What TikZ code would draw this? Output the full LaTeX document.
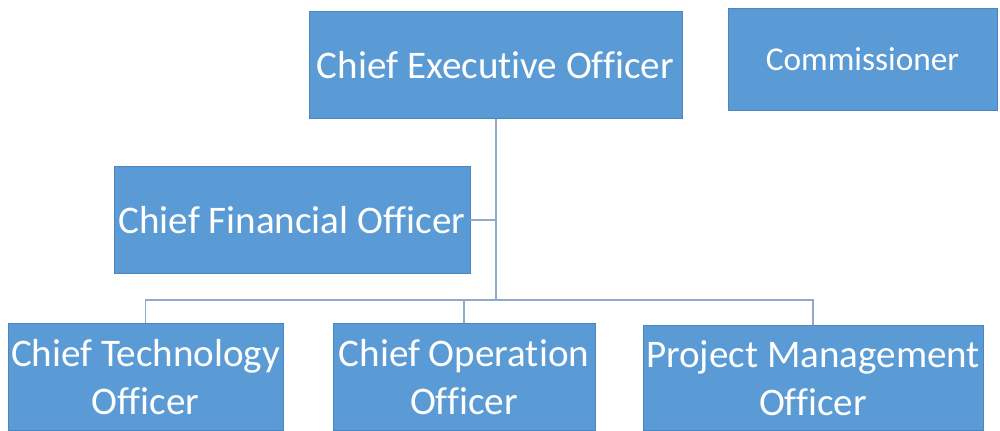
\documentclass[tikz,border=0pt]{standalone}
\usepackage{fontspec}
\setmainfont{Carlito}[Ligatures=NoCommon]
\usepackage{xcolor}
\usepackage{tikz}
\definecolor{boxblue}{HTML}{5B9BD5}
\definecolor{boxedge}{HTML}{4A86BF}
\definecolor{linkblue}{HTML}{8FAACB}
\tikzset{
    officebox/.style={draw=boxedge, fill=boxblue, text=white, line width=0.6pt,
        inner sep=0pt, align=center, font=\fontsize{29.3}{36}\selectfont},
    link/.style={draw=linkblue, line width=1pt}
}

\begin{document}
\begin{tikzpicture}[x=0.75pt, y=-0.75pt]
    \useasboundingbox (0, 0) rectangle (1000, 430);

    \node[officebox, minimum width=373*0.75pt, minimum height=107*0.75pt] at (495.5, 65) (ceo) {Chief Executive Officer};
    \node[officebox, minimum width=269*0.75pt, minimum height=102*0.75pt, font=\fontsize{25}{30}\selectfont] at (862.5, 59) (com) {Commissioner};
    \node[officebox, minimum width=356*0.75pt, minimum height=107*0.75pt] at (292, 220) (cfo) {Chief Financial Officer};
    \node[officebox, minimum width=275*0.75pt, minimum height=107*0.75pt] at (145.5, 377) (cto) {Chief Technology\\Officer};
    \node[officebox, minimum width=262*0.75pt, minimum height=107*0.75pt] at (464, 377) (coo) {Chief Operation\\Officer};
    \node[officebox, minimum width=340*0.75pt, minimum height=105*0.75pt] at (813, 378) (pmo) {Project Management\\Officer};

    \coordinate (hub) at (496, 300);

    \draw[link] (ceo.south -| hub) -- (hub);
    \draw[link] (cfo.east) -- (cfo.east -| hub);
    \draw[link] (cto.north) |- (hub);
    \draw[link] (coo.north) -- (coo.north |- hub);
    \draw[link] (pmo.north) |- (hub);
\end{tikzpicture}
\end{document}
